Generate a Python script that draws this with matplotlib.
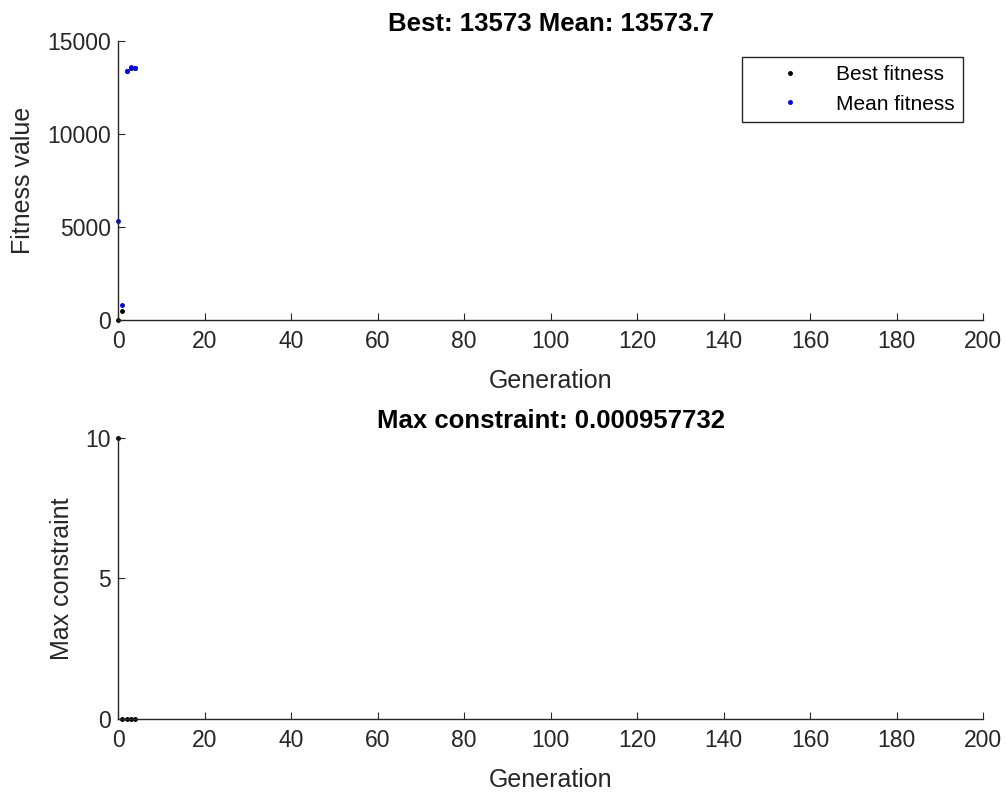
import numpy as np
import matplotlib.pyplot as plt

plt.rcParams['font.family'] = ['Liberation Sans', 'DejaVu Sans']
plt.rcParams['font.size'] = 16.5

generation = [0, 1, 2, 3, 4]
best_fitness = [0, 500, 13400, 13560, 13573]
mean_fitness = [5300, 780, 13400, 13600, 13573.7]
max_constraint = [10, 0.002, 0.001, 0.001, 0.000957732]


def matlab_style(ax):
    ax.spines['top'].set_visible(False)
    ax.spines['right'].set_visible(False)
    for s in ['left', 'bottom']:
        ax.spines[s].set_color('#262626')
        ax.spines[s].set_linewidth(1.0)
    ax.tick_params(direction='in', length=5, colors='#262626', labelsize=16.5)
    ax.tick_params(axis='x', pad=7)
    ax.tick_params(axis='y', pad=5)
    ax.set_xlim(0, 200)
    ax.set_xticks(np.arange(0, 201, 20))


fig = plt.figure(figsize=(10.07, 7.93), dpi=100)

ax1 = fig.add_axes([0.1172, 0.5965, 0.859, 0.3518])
ax1.plot(generation, best_fitness, '.', color='black', ms=5, label='Best fitness', clip_on=False)
ax1.plot(generation, mean_fitness, '.', color='blue', ms=5, label='Mean fitness', clip_on=False)
matlab_style(ax1)
ax1.set_ylim(0, 15000)
ax1.set_yticks([0, 5000, 10000, 15000])
ax1.set_xlabel('Generation', fontsize=18, labelpad=12, color='#262626')
ax1.set_ylabel('Fitness value', fontsize=18, labelpad=9, color='#262626')
ax1.set_title('Best: 13573 Mean: 13573.7', fontweight='bold', fontsize=18.5, pad=7)
leg = ax1.legend(loc='upper right', bbox_to_anchor=(0.977, 0.943), fancybox=False,
                 edgecolor='#262626', framealpha=1, handletextpad=0.3, handlelength=3.8,
                 borderpad=0.4, labelspacing=0.5, fontsize=15, borderaxespad=0)
leg.get_frame().set_linewidth(1.0)

ax2 = fig.add_axes([0.1172, 0.0933, 0.859, 0.3544])
ax2.plot(generation, max_constraint, '.', color='black', ms=5, clip_on=False)
matlab_style(ax2)
ax2.set_ylim(0, 10)
ax2.set_yticks([0, 5, 10])
ax2.set_xlabel('Generation', fontsize=18, labelpad=12, color='#262626')
ax2.set_ylabel('Max constraint', fontsize=18, labelpad=8, color='#262626')
ax2.set_title('Max constraint: 0.000957732', fontweight='bold', fontsize=18.5, pad=7)

fig.savefig('out.png', dpi=100)
